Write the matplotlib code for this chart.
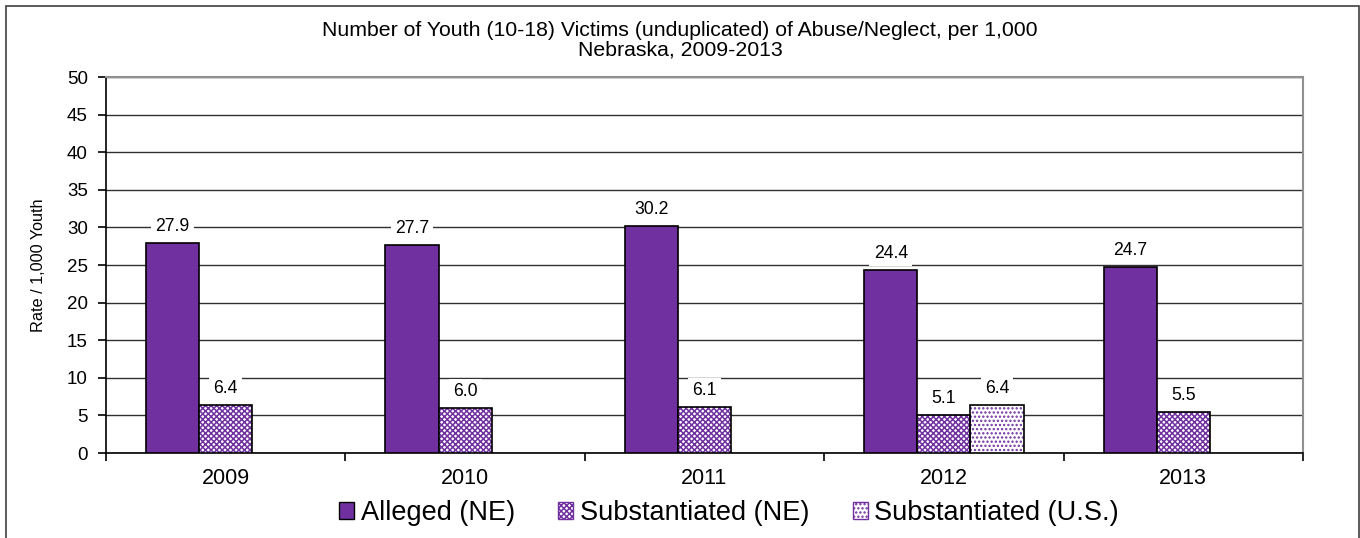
import numpy as np
import matplotlib.pyplot as plt
from matplotlib.patches import Rectangle, Patch

plt.rcParams['font.family'] = ['Liberation Sans', 'DejaVu Sans']
plt.rcParams['hatch.linewidth'] = 1.1

years = ['2009', '2010', '2011', '2012', '2013']
alleged_ne = [27.9, 27.7, 30.2, 24.4, 24.7]
subst_ne = [6.4, 6.0, 6.1, 5.1, 5.5]
subst_us = [np.nan, np.nan, np.nan, 6.4, np.nan]

purple = '#7030A0'

fig = plt.figure(figsize=(13.6, 5.38), dpi=100)
ax = fig.add_axes([106 / 1360, 1 - 453 / 538, (1303 - 106) / 1360, (453 - 77) / 538])

# outer chart border
fig.add_artist(Rectangle((6 / 1360, -0.05), 1353 / 1360, 1.05 - 6 / 538,
                         transform=fig.transFigure, fill=False,
                         edgecolor='#404040', linewidth=1.2))

x = np.arange(len(years))
w = 0.222

ax.bar(x - w, alleged_ne, w, color=purple, edgecolor='black', linewidth=1.2, zorder=3)
ax.bar(x, subst_ne, w, color='white', edgecolor=purple, hatch='xxxxxx', linewidth=0, zorder=3)
ax.bar(x, subst_ne, w, color='none', edgecolor='black', linewidth=1.2, zorder=4)
us_x = [xi + w for xi, v in zip(x, subst_us) if not np.isnan(v)]
us_v = [v for v in subst_us if not np.isnan(v)]
ax.bar(us_x, us_v, w, color='white', edgecolor=purple, hatch='....', linewidth=0, zorder=3)
ax.bar(us_x, us_v, w, color='none', edgecolor='black', linewidth=1.2, zorder=4)

lbl_box = dict(facecolor='white', edgecolor='none', pad=3)
for xs, vals in [(x - w, alleged_ne), (x, subst_ne), (us_x, us_v)]:
    for xi, v in zip(xs, vals):
        if np.isnan(v):
            continue
        ax.annotate(f'{v:.1f}', (xi, v), xytext=(0, 8.6), textcoords='offset points',
                    ha='center', va='baseline', fontsize=12.7, bbox=lbl_box, zorder=5)

ax.set_xlim(-0.5, len(years) - 0.5)
ax.set_ylim(0, 50)
ax.set_yticks(np.arange(0, 51, 5))
ax.set_xticks(x)
ax.set_xticklabels(years, fontsize=15.5)
ax.set_xticks(np.arange(-0.5, len(years), 1), minor=True)
ax.tick_params(axis='x', which='major', length=0, pad=11)
ax.tick_params(axis='x', which='minor', length=6, width=1.2, direction='out')
ax.tick_params(axis='y', labelsize=13.5, length=6, width=1.2, direction='out', pad=7)
ax.yaxis.grid(True, color='#303030', linewidth=1.0, zorder=0)
ax.set_axisbelow(True)

for s in ['top', 'right']:
    ax.spines[s].set_color('#909090')
    ax.spines[s].set_linewidth(1.5)
ax.spines['left'].set_linewidth(1.2)
ax.spines['bottom'].set_linewidth(1.2)

ax.set_ylabel('Rate / 1,000 Youth', fontsize=11.7)
ax.yaxis.set_label_coords(-0.050, 0.5)

fig.text(0.5, 1 - 30 / 538, 'Number of Youth (10-18) Victims (unduplicated) of Abuse/Neglect, per 1,000',
         ha='center', va='center', fontsize=15.3)
fig.text(0.5, 1 - 50 / 538, 'Nebraska, 2009-2013', ha='center', va='center', fontsize=15.3)

handles = [
    Patch(facecolor=purple, edgecolor='black'),
    Patch(facecolor='white', edgecolor=purple, hatch='xxxxxx'),
    Patch(facecolor='white', edgecolor=purple, hatch='....'),
]
fig.legend(handles, ['Alleged (NE)', 'Substantiated (NE)', 'Substantiated (U.S.)'],
           loc='center', bbox_to_anchor=(729 / 1360, 1 - 513 / 538), ncol=3, frameon=False,
           fontsize=19.5, handlelength=0.55, handleheight=0.55, handletextpad=0.25,
           columnspacing=1.6, borderpad=0)

fig.savefig('out.png', dpi=100)
